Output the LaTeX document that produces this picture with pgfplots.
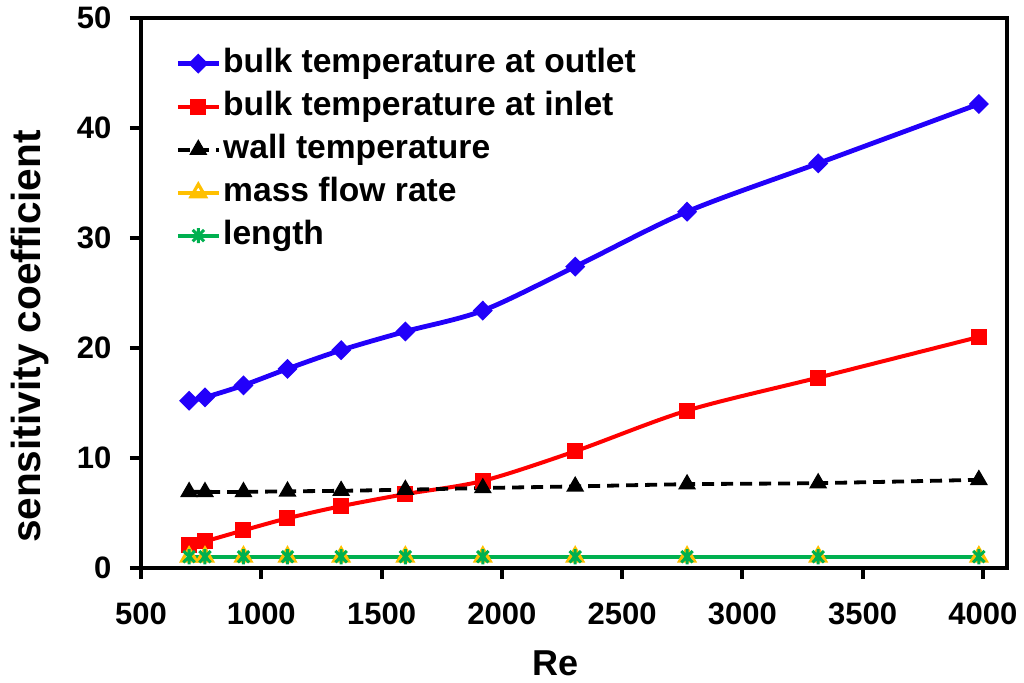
\documentclass[border=0pt]{standalone}
\usepackage{fontspec}
\setmainfont{Liberation Sans}
\usepackage{pgfplots}
\pgfplotsset{compat=1.18}
\definecolor{outblue}{RGB}{34,0,250}
\definecolor{inred}{RGB}{255,0,0}
\definecolor{massorange}{RGB}{255,192,0}
\definecolor{lengreen}{RGB}{0,176,80}

% asterisk made of a vertical stroke and a diagonal cross
\pgfdeclareplotmark{xstar}{%
  \pgfpathmoveto{\pgfqpoint{0pt}{\pgfplotmarksize}}%
  \pgfpathlineto{\pgfqpoint{0pt}{-\pgfplotmarksize}}%
  \pgfpathmoveto{\pgfqpoint{0.75\pgfplotmarksize}{0.75\pgfplotmarksize}}%
  \pgfpathlineto{\pgfqpoint{-0.75\pgfplotmarksize}{-0.75\pgfplotmarksize}}%
  \pgfpathmoveto{\pgfqpoint{-0.75\pgfplotmarksize}{0.75\pgfplotmarksize}}%
  \pgfpathlineto{\pgfqpoint{0.75\pgfplotmarksize}{-0.75\pgfplotmarksize}}%
  \pgfusepathqstroke}

\begin{document}
\begin{tikzpicture}
\useasboundingbox (-70.5pt,-57.15pt) rectangle (441.5pt,283.85pt);
\begin{axis}[
  scale only axis, width=433pt, height=274.7pt,
  xmin=500, xmax=4100, ymin=0, ymax=50,
  xtick={500,1000,...,4000}, ytick={0,10,...,50},
  axis line style={line width=2pt},
  tick style={line width=2pt, black},
  tick align=outside, major tick length=5.5pt,
  xtick pos=bottom, ytick pos=left,
  ticklabel style={font=\fontsize{15.5}{18}\selectfont\bfseries},
  /pgf/number format/assume math mode=true,
  /pgf/number format/set thousands separator={},
  xticklabel style={anchor=base, yshift=-23pt},
  yticklabel style={xshift=-5.8pt},
  xlabel={Re}, ylabel={sensitivity coefficient},
  xlabel style={font=\fontsize{18}{21}\selectfont\bfseries,
    at={(axis description cs:0.5,0)}, anchor=base, xshift=-9pt, yshift=-53.7pt},
  ylabel style={font=\fontsize{20.3}{24}\selectfont\bfseries,
    at={(axis description cs:-0.1166,0.4208)}, anchor=base},
  legend cell align=left,
  legend style={at={(axis description cs:0,1)}, anchor=north west,
    xshift=17pt, yshift=-13.7pt, draw=none, fill=none, inner sep=0pt,
    row sep=4pt,
    nodes={inner sep=1pt, text height=12pt, text depth=3.5pt},
    font=\fontsize{16.8}{19}\selectfont\bfseries},
  legend image code/.code={%
    \draw[mark repeat=2,mark phase=2] plot coordinates {(0pt,0pt) (10.25pt,0pt) (20.5pt,0pt)};},
]
\addplot[outblue, line width=2.4pt, smooth, mark=diamond*, mark size=4.3pt,
  mark options={fill=outblue, xscale=1.33, line width=1pt}] coordinates {
  (700,15.2) (766,15.5) (926,16.6) (1109,18.1) (1332,19.8) (1599,21.5)
  (1921,23.4) (2305,27.4) (2770,32.4) (3315,36.8) (3983,42.2)};
\addlegendentry{bulk temperature at outlet}
\addplot[inred, line width=2pt, smooth, mark=square*, mark size=3.5pt,
  mark options={fill=inred, line width=1pt}] coordinates {
  (700,2.1) (766,2.4) (926,3.4) (1109,4.5) (1332,5.6) (1599,6.7)
  (1921,7.9) (2305,10.6) (2770,14.3) (3315,17.3) (3983,21.0)};
\addlegendentry{bulk temperature at inlet}
\addplot[black, line width=1.9pt, smooth, dash pattern=on 6pt off 3.5pt,
  mark=triangle*, mark size=4.2pt, mark options={solid, fill=black, line width=1pt}] coordinates {
  (700,6.9) (766,6.9) (926,6.9) (1109,6.95) (1332,7.0) (1599,7.1)
  (1921,7.25) (2305,7.4) (2770,7.6) (3315,7.7) (3983,8.0)};
\addlegendentry{wall temperature}
\addplot[massorange, line width=2pt, mark=triangle, mark size=4.2pt,
  mark options={fill=white, line width=1.6pt}] coordinates {
  (700,1) (766,1) (926,1) (1109,1) (1332,1) (1599,1)
  (1921,1) (2305,1) (2770,1) (3315,1) (3983,1)};
\addlegendentry{mass flow rate}
\addplot[lengreen, line width=2pt, mark=xstar, mark size=3.8pt,
  mark options={line width=1.5pt}] coordinates {
  (700,1) (766,1) (926,1) (1109,1) (1332,1) (1599,1)
  (1921,1) (2305,1) (2770,1) (3315,1) (3983,1)};
\addlegendentry{length}
\end{axis}
\end{tikzpicture}
\end{document}
